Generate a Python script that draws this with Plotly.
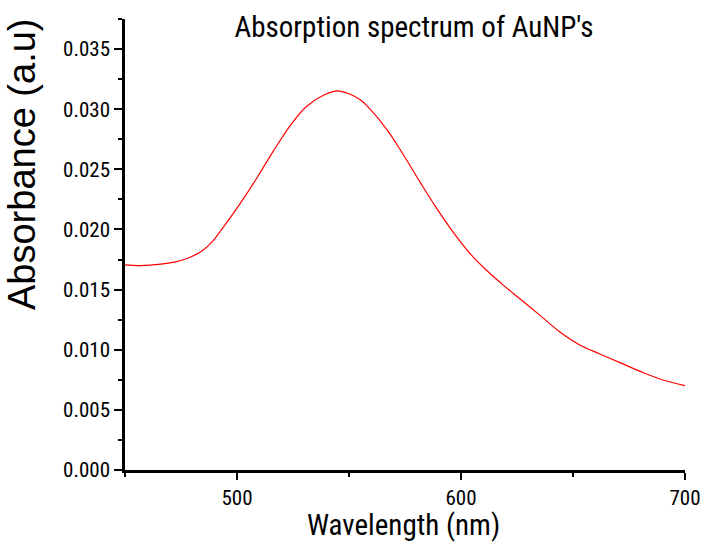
import plotly.graph_objects as go

wavelength = [450, 457, 466, 472, 478, 484, 489, 493, 501, 509, 516, 524, 531, 539,
              545, 550, 555, 559, 567, 574, 582, 589, 597, 604, 612, 619, 626, 635,
              644, 653, 662, 671, 680, 689, 700]
absorbance = [0.01706, 0.01700, 0.01711, 0.01728, 0.01761, 0.01816, 0.01899, 0.01997,
              0.02205, 0.02432, 0.02645, 0.02870, 0.03023, 0.03120, 0.03153, 0.03128,
              0.03078, 0.03009, 0.02829, 0.02630, 0.02385, 0.02180, 0.01965, 0.01800,
              0.01650, 0.01535, 0.01428, 0.01290, 0.01150, 0.01040, 0.00965, 0.00893,
              0.00820, 0.00755, 0.00702]

title_text = "Absorption spectrum of AuNP's"
x_label = "Wavelength (nm)"
y_label = "Absorbance (a.u)"

NARROW = "Roboto Condensed, Liberation Sans Narrow, sans-serif"
REG = "Liberation Sans, Arial, sans-serif"

fig = go.Figure()
fig.add_trace(go.Scatter(x=wavelength, y=absorbance, mode="lines",
                         line=dict(color="#ff0000", width=1.2, shape="spline", smoothing=1),
                         showlegend=False))

fig.update_layout(
    width=701, height=544,
    margin=dict(l=125, r=16, t=19, b=74, autoexpand=False),
    plot_bgcolor="white", paper_bgcolor="white",
    xaxis=dict(range=[450, 700], tick0=500, dtick=100, showgrid=False, zeroline=False,
               automargin=False,
               showline=True, linecolor="black", linewidth=2.5,
               ticks="outside", ticklen=7, tickwidth=2, tickcolor="black",
               minor=dict(dtick=50, tick0=500, ticks="outside", ticklen=4, tickwidth=2, tickcolor="black"),
               tickfont=dict(family=NARROW, size=21, color="black")),
    yaxis=dict(range=[0, 0.0375], tick0=0, dtick=0.005, tickformat=".3f", showgrid=False, zeroline=False,
               automargin=False,
               showline=True, linecolor="black", linewidth=2.5,
               ticks="outside", ticklen=8, tickwidth=2, tickcolor="black",
               minor=dict(dtick=0.0025, ticks="outside", ticklen=4, tickwidth=2, tickcolor="black"),
               tickfont=dict(family=NARROW, size=21, color="black")),
    title=dict(text=title_text, x=414/701, xanchor="center", xref="container",
               y=1-27/544, yanchor="middle", yref="container",
               font=dict(family=NARROW, size=29, color="black")),
)

fig.add_annotation(text=x_label, xref="paper", yref="paper", x=0.498, y=-55/451,
                   xanchor="center", yanchor="middle", showarrow=False,
                   font=dict(family=NARROW, size=29, color="black"))
fig.add_annotation(text=y_label, xref="paper", yref="paper", x=-(125-22)/560, y=(470-164)/451,
                   xanchor="center", yanchor="middle", textangle=-90, showarrow=False,
                   font=dict(family=REG, size=38, color="black"))

fig.write_html("out.html", config={"displayModeBar": False},
               post_script="document.body.style.margin='0';document.body.style.overflow='hidden';")
